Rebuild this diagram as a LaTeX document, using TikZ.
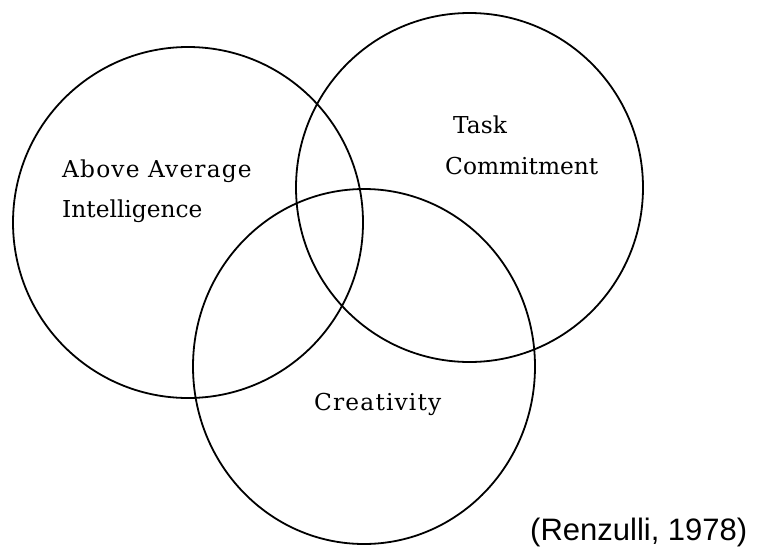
\documentclass[tikz,border=0pt]{standalone}
\usepackage{fontspec}
\setmainfont{DejaVu Serif}
\newfontfamily\citefont{Liberation Sans}
\begin{document}
\begin{tikzpicture}[x=1pt,y=-1pt,
  ring/.style={draw=black, line width=1.8pt},
  lbl/.style={anchor=base west, inner sep=0pt, font=\fontsize{23.3}{28}\selectfont},
  wide/.style={font=\fontsize{23.3}{28}\selectfont\addfontfeature{LetterSpace=5}},
  cite/.style={anchor=base west, inner sep=0pt, font=\citefont\fontsize{31}{35}\selectfont}]
\useasboundingbox[fill=white] (0,0) rectangle (757,549);
\draw[ring] (188,222.5) ellipse [x radius=175, y radius=175.5];
\draw[ring] (469.5,187.5) ellipse [x radius=173.5, y radius=174.5];
\draw[ring] (364,366.5) ellipse [x radius=171, y radius=177.5];
\node[lbl, wide] (above) at (62,177) {Above Average};
\node[lbl] (intel) at (62,217) {Intelligence};
\node[lbl] (task) at (453,133) {Task};
\node[lbl] (commit) at (445,174) {Commitment};
\node[lbl, wide] (creat) at (314,410) {Creativity};
\node[cite] (ref) at (530,540) {(Renzulli, 1978)};
\end{tikzpicture}
\end{document}
